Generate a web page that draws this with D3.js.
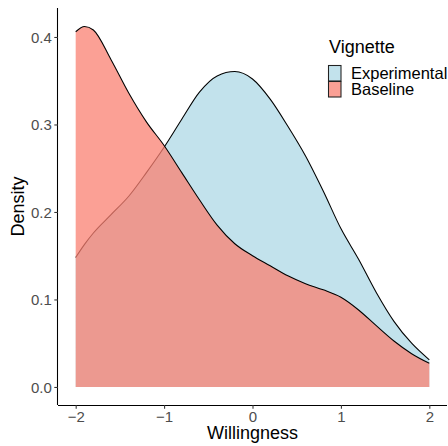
<!DOCTYPE html>
<html>
<head>
<meta charset="utf-8">
<script src="https://cdn.jsdelivr.net/npm/d3@7"></script>
<style>
  html, body { margin: 0; padding: 0; background: #fff; }
  svg { display: block; font-family: "Liberation Sans", Arial, sans-serif; }
</style>
</head>
<body>
<svg id="chart" width="448" height="446"></svg>
<script>
// ---- data ----
const willingness = [-2, -1.9, -1.8, -1.6, -1.4, -1.2, -1.0, -0.8, -0.6, -0.4, -0.2, 0.0, 0.2, 0.4, 0.6, 0.8, 1.0, 1.2, 1.4, 1.6, 1.8, 2.0];
const experimental = [0.148, 0.163, 0.176, 0.197, 0.218, 0.245, 0.274, 0.306, 0.337, 0.3555, 0.3605, 0.352, 0.329, 0.298, 0.264, 0.224, 0.181, 0.146, 0.108, 0.075, 0.050, 0.031];
const baseline = [0.406, 0.412, 0.408, 0.374, 0.336, 0.303, 0.276, 0.245, 0.214, 0.185, 0.1637, 0.150, 0.1385, 0.127, 0.118, 0.111, 0.1025, 0.088, 0.070, 0.0525, 0.038, 0.027];
const groups = ["Experimental", "Baseline"];
const groupFills = ["#ADD8E6", "#FA8072"];
const xTicks = [-2, -1, 0, 1, 2];
const yTicks = [0.0, 0.1, 0.2, 0.3, 0.4];
const xTitle = "Willingness";
const yTitle = "Density";
const legendTitle = "Vignette";

// ---- layout ----
const svg = d3.select("#chart");
const panel = { left: 58, right: 447, top: 8, bottom: 405 };
const yMax = 0.4125, yPad = yMax * 0.05;
const x = d3.scaleLinear().domain([-2.2, 2.2]).range([panel.left, panel.right]);
const y = d3.scaleLinear().domain([-yPad, yMax + yPad]).range([panel.bottom, panel.top]);

const series = [experimental, baseline];
const alpha = 0.75;

series.forEach((vals, i) => {
  const pts = willingness.map((w, j) => [w, vals[j]]);
  const area = d3.area().x(d => x(d[0])).y0(y(0)).y1(d => y(d[1])).curve(d3.curveMonotoneX);
  const line = d3.line().x(d => x(d[0])).y(d => y(d[1])).curve(d3.curveMonotoneX);
  svg.append("path").attr("d", area(pts)).attr("fill", groupFills[i]).attr("fill-opacity", alpha);
  svg.append("path").attr("d", line(pts)).attr("fill", "none").attr("stroke", "#000").attr("stroke-width", 1.07);
});

// ---- axes ----
const xAxis = d3.axisBottom(x).tickValues(xTicks).tickSize(3.7).tickPadding(2.5)
  .tickFormat(d => d3.format("d")(d).replace("-", "\u2212"));
const yAxis = d3.axisLeft(y).tickValues(yTicks).tickSize(3.7).tickPadding(2.5)
  .tickFormat(d3.format(".1f"));

const gx = svg.append("g").attr("transform", `translate(0,${panel.bottom})`).call(xAxis);
const gy = svg.append("g").attr("transform", `translate(${panel.left},0)`).call(yAxis);
[gx, gy].forEach(g => {
  g.select(".domain").attr("stroke", "#000").attr("stroke-width", 1.07);
  g.selectAll(".tick line").attr("stroke", "#333").attr("stroke-width", 1.07);
  g.selectAll(".tick text").attr("fill", "#4D4D4D").style("font-size", "15px")
    .style("font-family", "Liberation Sans, Arial, sans-serif");
});
gx.selectAll(".tick text").attr("dy", "0.72em");
gy.selectAll(".tick text").attr("dy", "0.36em");
gx.select(".domain").attr("d", `M${panel.left},0.5H${panel.right}`);
gy.select(".domain").attr("d", `M-0.5,${panel.top}V${panel.bottom}`);

// ---- axis titles ----
svg.append("text").attr("x", (panel.left + panel.right) / 2).attr("y", 439)
  .attr("text-anchor", "middle").style("font-size", "18px").attr("fill", "#000").text(xTitle);
svg.append("text").attr("transform", `translate(24,${(panel.top + panel.bottom) / 2}) rotate(-90)`)
  .attr("text-anchor", "middle").style("font-size", "18px").attr("fill", "#000").text(yTitle);

// ---- legend ----
const lg = svg.append("g");
lg.append("text").attr("x", 329).attr("y", 53).style("font-size", "18px").attr("fill", "#000").text(legendTitle);
groups.forEach((g, i) => {
  const top = 65 + i * 16;
  lg.append("rect").attr("x", 328.5).attr("y", top + 0.5).attr("width", 12.5).attr("height", 15.5)
    .attr("fill", groupFills[i]).attr("fill-opacity", alpha).attr("stroke", "#222").attr("stroke-width", 1.07);
  lg.append("text").attr("x", 351).attr("y", top + 13.5).style("font-size", "16.5px").attr("fill", "#000").text(g);
});
</script>
</body>
</html>
